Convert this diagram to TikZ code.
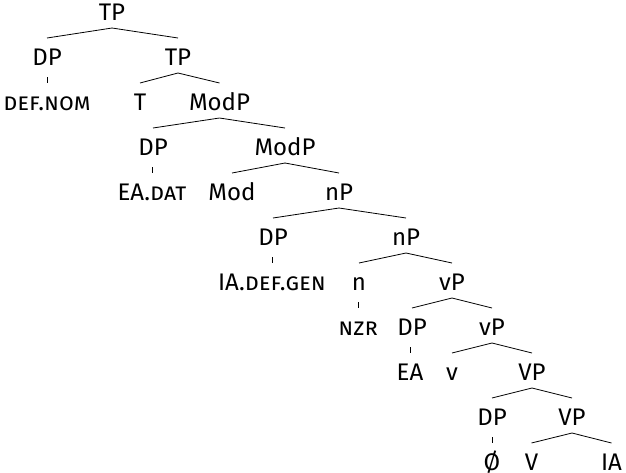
\documentclass[tikz,border=0pt]{standalone}
\usepackage{fontspec}
\setmainfont{Fira Sans}
\usetikzlibrary{calc}
\tikzset{
  lab/.style={inner sep=0pt, anchor=base, font=\fontsize{24}{28}\selectfont},
  edge/.style={line width=0.8pt, black}
}
% baseline of each level = level centre + 8.5
\newcommand{\br}[2]{\draw[edge] ($(#1.base)+(0,7.5)$) -- ($(#2.base)+(0,-27.5)$);}
\newcommand{\un}[2]{\draw[edge] ($(#2.base|-#1.base)+(0,11.5)$) -- ($(#2.base)+(0,-27.5)$);}
\begin{document}
\begin{tikzpicture}[x=1pt,y=-1pt]
\useasboundingbox (0,0) rectangle (626,472);
\node[lab] (TP0) at (112,20.5) {TP};
\node[lab] (DP1) at (47,65.5) {DP};
\node[lab] (TP1) at (178,65.5) {TP};
\node[lab] (def) at (47,110.5) {\textsc{def.nom}};
\node[lab] (T) at (140,110.5) {T};
\node[lab] (ModP1) at (219.5,110.5) {ModP};
\node[lab] (DP2) at (153,155.5) {DP};
\node[lab] (ModP2) at (285,155.5) {ModP};
\node[lab] (eadat) at (152,200.5) {EA.\textsc{dat}};
\node[lab] (Mod) at (232,200.5) {Mod};
\node[lab] (nP1) at (339,200.5) {nP};
\node[lab] (DP3) at (273,245.5) {DP};
\node[lab] (nP2) at (406,245.5) {nP};
\node[lab] (iadef) at (272,290.5) {IA.\textsc{def.gen}};
\node[lab] (n) at (359,290.5) {n};
\node[lab] (vP1) at (452,290.5) {vP};
\node[lab] (nzr) at (358,335.5) {\textsc{nzr}};
\node[lab] (DP4) at (412,335.5) {DP};
\node[lab] (vP2) at (492,335.5) {vP};
\node[lab] (EA) at (410,380.5) {EA};
\node[lab] (v) at (452,380.5) {v};
\node[lab] (VP1) at (532,380.5) {VP};
\node[lab] (DP5) at (492,425.5) {DP};
\node[lab] (VP2) at (572,425.5) {VP};
\node[lab] (null) at (492,470.5) {Ø};
\node[lab] (V) at (531.5,470.5) {V};
\node[lab] (IA) at (611.5,470.5) {IA};
\br{TP0}{DP1} \br{TP0}{TP1}
\un{DP1}{def}
\br{TP1}{T} \br{TP1}{ModP1}
\br{ModP1}{DP2} \br{ModP1}{ModP2}
\un{DP2}{eadat}
\br{ModP2}{Mod} \br{ModP2}{nP1}
\br{nP1}{DP3} \br{nP1}{nP2}
\un{DP3}{iadef}
\br{nP2}{n} \br{nP2}{vP1}
\un{n}{nzr}
\br{vP1}{DP4} \br{vP1}{vP2}
\un{DP4}{EA}
\br{vP2}{v} \br{vP2}{VP1}
\br{VP1}{DP5} \br{VP1}{VP2}
\un{DP5}{null}
\br{VP2}{V} \br{VP2}{IA}
\end{tikzpicture}
\end{document}
